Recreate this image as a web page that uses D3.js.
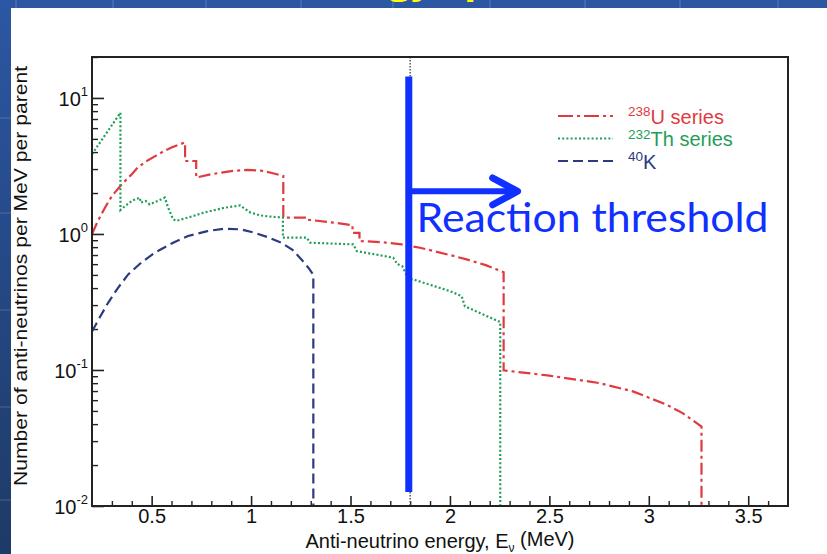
<!DOCTYPE html>
<html><head><meta charset="utf-8">
<script src="https://cdn.jsdelivr.net/npm/d3@7"></script>
<style>body{margin:0;background:#fff;} svg{display:block;}</style>
</head><body>
<svg id="c" width="827" height="554"></svg>
<script>
// ---- data ----
const uE = [0.20,0.23,0.265,0.30,0.35,0.40,0.43,0.47,0.52,0.56,0.60,0.64,0.668,0.668,0.724,0.724,0.80,0.90,0.98,1.05,1.10,1.162,1.162,1.25,1.27,1.27,1.42,1.51,1.51,1.545,1.545,1.65,1.757,1.85,1.92,2.00,2.084,2.18,2.27,2.27,2.50,2.75,2.92,3.005,3.09,3.17,3.265,3.265];
const uV = [1.00,1.25,1.56,1.90,2.32,2.75,3.08,3.40,3.75,4.05,4.32,4.55,4.71,3.44,3.44,2.60,2.75,2.90,2.96,2.92,2.82,2.67,1.32,1.32,1.32,1.28,1.21,1.16,1.02,1.02,0.887,0.872,0.838,0.792,0.748,0.70,0.650,0.59,0.524,0.0994,0.0908,0.0802,0.0696,0.0622,0.0555,0.0482,0.0384,0.01];
const thE = [0.20,0.25,0.30,0.343,0.343,0.37,0.40,0.44,0.445,0.47,0.49,0.53,0.566,0.583,0.608,0.625,0.683,0.767,0.868,0.945,0.995,1.045,1.10,1.16,1.16,1.28,1.296,1.514,1.531,1.715,1.735,1.76,1.79,1.816,2.00,2.059,2.075,2.253,2.253];
const thV = [3.86,4.94,6.30,7.80,1.50,1.62,1.75,1.85,1.70,1.75,1.65,1.75,1.85,1.56,1.28,1.25,1.32,1.44,1.56,1.62,1.44,1.37,1.34,1.32,0.94,0.94,0.863,0.838,0.748,0.669,0.60,0.58,0.47,0.463,0.38,0.349,0.294,0.225,0.01];
const kE = [0.20,0.24,0.281,0.33,0.382,0.45,0.516,0.60,0.683,0.78,0.868,0.95,1.018,1.09,1.152,1.21,1.253,1.29,1.313,1.313];
const kV = [0.192,0.245,0.312,0.40,0.504,0.62,0.728,0.85,0.966,1.05,1.094,1.08,1.02,0.94,0.863,0.76,0.65,0.56,0.50,0.01];
const xMajorTicks = [0.5,1,1.5,2,2.5,3,3.5];
const yMajorTicks = [0.01,0.1,1,10];
const yTickExp = ["-2","-1","0","1"];
const legendSup = ["238","232","40"];
const legendMain = ["U series","Th series","K"];
const thresholdE = 1.8;          // dotted marker
const blueLineE = 1.793;         // drawn annotation
const blueLineV = [0.0127, 14.4];
const arrowPts = [[1.793,2.06],[2.33,2.06]];
const arrowHead = [[2.215,2.58],[2.34,2.06],[2.215,1.64]];

// ---- layout ----
const W = 827, H = 554;
const M = {l:92, t:57, r:788, b:506};
const svg = d3.select("#c");

// slide background
const defs = svg.append("defs");
const g1 = defs.append("linearGradient").attr("id","bg").attr("x1",0).attr("y1",0).attr("x2",0).attr("y2",1);
g1.append("stop").attr("offset","0").attr("stop-color","#2c57a3");
g1.append("stop").attr("offset","1").attr("stop-color","#1e3a66");
svg.append("rect").attr("width",W).attr("height",H).attr("fill","url(#bg)");
[16,113,206,301,393,490,585,680,778].forEach(v=>svg.append("line").attr("x1",v).attr("x2",v).attr("y1",0).attr("y2",8).attr("stroke","rgba(255,255,255,0.15)").attr("stroke-width",1.5));
[118,213,310,407,500].forEach(v=>svg.append("line").attr("y1",v).attr("y2",v).attr("x1",0).attr("x2",11).attr("stroke","rgba(255,255,255,0.13)").attr("stroke-width",1.5));
svg.append("text").attr("x",298).attr("y",-7).attr("font-family","Open Sans, sans-serif").attr("font-weight","bold").attr("font-size",40).attr("fill","#ffff00").text("Energy spectrum");
svg.append("rect").attr("x",11).attr("y",8).attr("width",W-11).attr("height",H-8).attr("fill","#ffffff");

// scales
const x = d3.scaleLinear().domain([0.2,3.7]).range([M.l,M.r]);
const y = d3.scaleLog().domain([0.01,20]).range([M.b,M.t]);

defs.append("clipPath").attr("id","clip").append("rect").attr("x",M.l).attr("y",M.t).attr("width",M.r-M.l).attr("height",M.b-M.t);

const FONT = "Liberation Sans, Arial, Helvetica, sans-serif";

// minor ticks
const xMinor = d3.range(3,37).map(i=>i/10).filter(v=>Math.abs(v*2-Math.round(v*2))>1e-6);
svg.append("g").attr("transform",`translate(0,${M.b})`)
  .call(d3.axisBottom(x).tickValues(xMinor).tickSize(-5).tickFormat(""))
  .call(g=>g.select(".domain").remove())
  .call(g=>g.selectAll("line").attr("stroke","#222").attr("stroke-width",1.4));
svg.append("g").attr("transform",`translate(0,${M.b})`)
  .call(d3.axisBottom(x).tickValues(xMajorTicks).tickSize(-10).tickPadding(3).tickFormat(d=>String(d)))
  .call(g=>g.select(".domain").remove())
  .call(g=>g.selectAll("line").attr("stroke","#222").attr("stroke-width",1.6))
  .call(g=>g.selectAll("text").attr("font-family",FONT).attr("font-size",20).attr("fill","#111"));

const yMinor = [];
[0.01,0.1,1,10].forEach(d=>{for(let k=2;k<=9;k++){const v=d*k; if(v<=20) yMinor.push(v);}});
svg.append("g").attr("transform",`translate(${M.l},0)`)
  .call(d3.axisLeft(y).tickValues(yMinor).tickSize(-6).tickFormat(""))
  .call(g=>g.select(".domain").remove())
  .call(g=>g.selectAll("line").attr("stroke","#222").attr("stroke-width",1.4));
const yax = svg.append("g").attr("transform",`translate(${M.l},0)`)
  .call(d3.axisLeft(y).tickValues(yMajorTicks).tickSize(-12).tickPadding(4).tickFormat(""))
  .call(g=>g.select(".domain").remove())
  .call(g=>g.selectAll("line").attr("stroke","#222").attr("stroke-width",1.6));
yax.selectAll("text").each(function(d,i){
  const t = d3.select(this).attr("font-family",FONT).attr("font-size",20).attr("fill","#111").attr("dy","0.36em");
  t.append("tspan").text("10");
  t.append("tspan").attr("font-size",13).attr("dy","-0.75em").text(yTickExp[i]);
});

// threshold dotted
svg.append("line").attr("x1",x(thresholdE)).attr("x2",x(thresholdE)).attr("y1",M.t).attr("y2",M.b)
  .attr("stroke","#555").attr("stroke-width",1.5).attr("stroke-dasharray","1.5,1.5");

// series
const line = d3.line().x(d=>x(d[0])).y(d=>y(d[1]));
const plot = svg.append("g").attr("clip-path","url(#clip)");
const series = [
  {E:uE,V:uV,color:"#e03a3e",dash:"12,4,3,4",w:2.2},
  {E:thE,V:thV,color:"#1f9e57",dash:"2,2.2",w:2.2},
  {E:kE,V:kV,color:"#2a3b80",dash:"10,5",w:2.2}
];
series.forEach(s=>{
  plot.append("path").datum(s.E.map((e,i)=>[e,s.V[i]])).attr("d",line)
    .attr("fill","none").attr("stroke",s.color).attr("stroke-width",s.w).attr("stroke-dasharray",s.dash);
});

// frame
svg.append("rect").attr("x",M.l).attr("y",M.t).attr("width",M.r-M.l).attr("height",M.b-M.t)
  .attr("fill","none").attr("stroke","#222").attr("stroke-width",2);

// legend
const lg = svg.append("g");
series.forEach((s,i)=>{
  const yy = 116 + i*22.5;
  lg.append("line").attr("x1",558).attr("x2",613).attr("y1",yy).attr("y2",yy)
    .attr("stroke",s.color).attr("stroke-width",s.w).attr("stroke-dasharray",i===0?"15,4,3,4":s.dash);
  const t = lg.append("text").attr("x",628).attr("y",yy+7.5).attr("font-family",FONT).attr("font-size",20).attr("fill",s.color);
  t.append("tspan").attr("font-size",13.5).attr("dy","-0.55em").text(legendSup[i]);
  t.append("tspan").attr("dy","0.38em").text(legendMain[i]);
});

// axis titles
const xt = svg.append("text").attr("x",440).attr("y",548).attr("text-anchor","middle")
  .attr("font-family",FONT).attr("font-size",20).attr("fill","#111");
xt.append("tspan").text("Anti-neutrino energy, E");
xt.append("tspan").attr("font-size",12).attr("dy","0.3em").text("ν");
xt.append("tspan").attr("dy","-0.3em").text(" (MeV)");
svg.append("text").attr("transform","translate(27,276) rotate(-90)").attr("text-anchor","middle")
  .attr("font-family",FONT).attr("font-size",19).attr("fill","#111")
  .attr("textLength",420).attr("lengthAdjust","spacingAndGlyphs")
  .text("Number of anti-neutrinos per MeV per parent");

// blue annotation
const blue = "#1030ff";
svg.append("line").attr("x1",x(blueLineE)).attr("x2",x(blueLineE)).attr("y1",y(blueLineV[0])).attr("y2",y(blueLineV[1]))
  .attr("stroke",blue).attr("stroke-width",7);
svg.append("path").attr("d",line(arrowPts)).attr("stroke",blue).attr("stroke-width",6).attr("fill","none");
svg.append("path").attr("d",line(arrowHead)).attr("stroke",blue).attr("stroke-width",7).attr("fill","none")
  .attr("stroke-linecap","round").attr("stroke-linejoin","round");
svg.append("text").attr("x",416.5).attr("y",231.5).attr("font-family","Lato, Open Sans, sans-serif").attr("font-size",40)
  .attr("fill",blue).attr("textLength",352).attr("lengthAdjust","spacingAndGlyphs").text("Reaction threshold");
</script>
</body></html>
